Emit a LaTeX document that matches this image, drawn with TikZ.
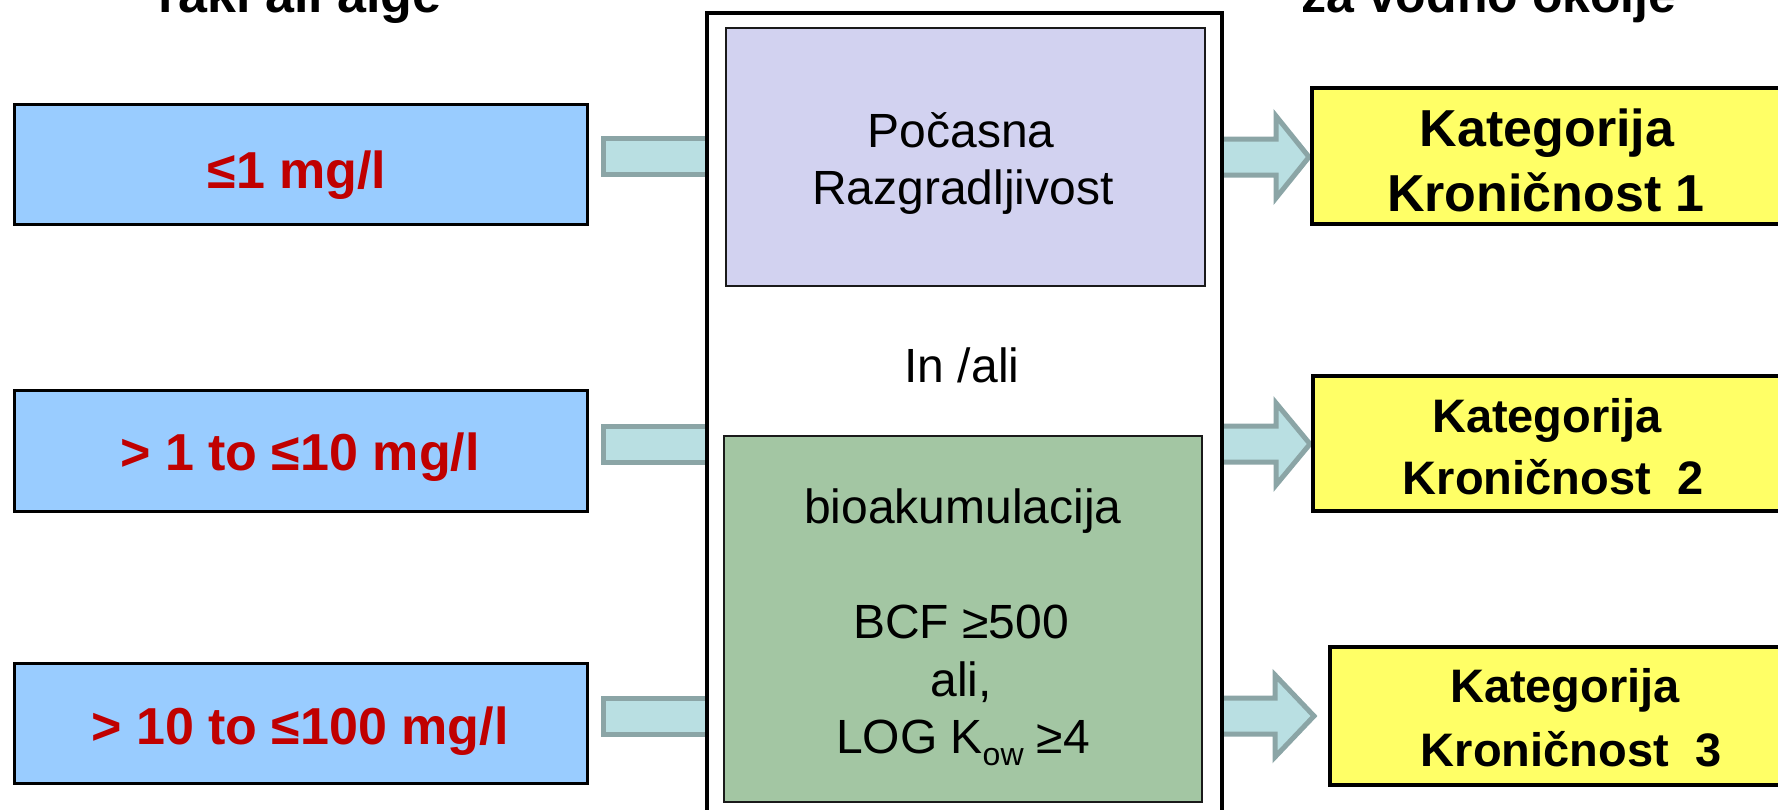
\documentclass[tikz,border=0pt]{standalone}
\usepackage{fontspec}
\setmainfont{Liberation Sans}

\definecolor{inblue}{HTML}{99CCFF}
\definecolor{valred}{HTML}{C00000}
\definecolor{arrfill}{HTML}{B9DFE2}
\definecolor{arredge}{HTML}{8BA5A6}
\definecolor{slowfill}{HTML}{D2D2F0}
\definecolor{biofill}{HTML}{A3C6A3}
\definecolor{catfill}{HTML}{FFFF66}
\definecolor{inkgray}{HTML}{1A1A1A}

\begin{document}
\begin{tikzpicture}[x=0.5pt,y=-0.5pt,
  inbox/.style={draw=black, line width=1.5pt, fill=inblue, inner sep=0pt, minimum width=286.5pt},
  outerbox/.style={draw=black, line width=1.7pt, fill=white, inner sep=0pt},
  critbox/.style={draw=inkgray, line width=1.3pt, inner sep=0pt},
  catbox/.style={draw=black, line width=1.7pt, fill=catfill, inner sep=0pt},
  shaft/.style={draw=arredge, fill=arrfill, line width=2.5pt, line join=miter},
  hdr/.style={font=\bfseries\fontsize{26}{30}\selectfont, inner sep=0pt, anchor=base},
  val/.style={font=\bfseries\fontsize{26}{30}\selectfont, text=valred, inner sep=0pt, anchor=base},
  crit/.style={font=\fontsize{24}{28}\selectfont, inner sep=0pt, anchor=base},
  catA/.style={font=\bfseries\fontsize{26}{30}\selectfont, inner sep=0pt, anchor=base},
  catB/.style={font=\bfseries\fontsize{23.5}{28}\selectfont, inner sep=0pt, anchor=base}]

\useasboundingbox (0,0) rectangle (1778,809);
\clip (0,0) rectangle (1778,809);

% column headings (only their last lines fall inside the frame)
\node[hdr] (hl) at (300,12) {raki ali alge};
\node[hdr, font=\bfseries\fontsize{25}{30}\selectfont] (hr) at (1489,12) {za vodno okolje};

% toxicity ranges
\node[inbox, minimum height=60pt]   (b1) at (300.5,164)   {};
\node[inbox, minimum height=60.5pt] (b2) at (300.5,450.5) {};
\node[inbox, minimum height=60pt]   (b3) at (300.5,723)   {};
\node[val] (v1) at (297,188) {≤1 mg/l};
\node[val] (v2) at (300,470) {> 1 to ≤10 mg/l};
\node[val] (v3) at (300,744) {> 10 to ≤100 mg/l};

% anchor points of the block arrows
\coordinate (l1) at (603.5,156.5);
\coordinate (l2) at (603.5,444.5);
\coordinate (l3) at (603.5,716.5);
\coordinate (r1) at (1215,157);
\coordinate (r2) at (1215,444);
\coordinate (r3) at (1215,716);

% shafts entering the criteria frame
\foreach \c in {l1,l2,l3}
  \draw[shaft] ([yshift=9pt]\c) rectangle ([xshift=56pt,yshift=-9pt]\c);

% block arrows leaving the criteria frame
\draw[shaft] ([yshift=9pt]r1) -- ++(61,0) -- ++(0,-23) -- ++(33,41) -- ++(-33,41) -- ++(0,-23) -- ++(-61,0) -- cycle;
\draw[shaft] ([yshift=9pt]r2) -- ++(61,0) -- ++(0,-23) -- ++(34,41) -- ++(-34,41) -- ++(0,-23) -- ++(-61,0) -- cycle;
\draw[shaft] ([yshift=9pt]r3) -- ++(60,0) -- ++(0,-23) -- ++(39,41) -- ++(-39,41) -- ++(0,-23) -- ++(-60,0) -- cycle;

% criteria frame
\node[outerbox, minimum width=257.5pt, minimum height=408.5pt] (o) at (964.5,421.5) {};
\node[critbox, fill=slowfill, minimum width=239.5pt, minimum height=129pt] (p) at (965.5,157) {};
\node[critbox, fill=biofill,  minimum width=239pt,   minimum height=183pt] (g) at (963,619) {};

\node[crit] (t1) at (961,147) {Počasna};
\node[crit] (t2) at (963,204) {Razgradljivost};
\node[crit] (t3) at (962,382) {In /ali};
\node[crit] (t4) at (963,523) {bioakumulacija};
\node[crit] (t5) at (961,638) {BCF ≥500};
\node[crit] (t6) at (961,696) {ali,};
\node[crit] (t7) at (963,753) {LOG K\raisebox{-6pt}{\fontsize{16}{16}\selectfont ow} ≥4};

% chronic hazard categories
\node[catbox, minimum width=244pt,   minimum height=68pt]   (k1) at (1556,156)     {};
\node[catbox, minimum width=243.5pt, minimum height=67.5pt] (k2) at (1556.5,443.5) {};
\node[catbox, minimum width=235pt,   minimum height=69pt]   (k3) at (1565,716)     {};

\node[catA] (c1a) at (1547,146) {Kategorija};
\node[catA] (c1b) at (1546,211) {Kroničnost 1};
\node[catB] (c2a) at (1547,432) {Kategorija};
\node[catB] (c2b) at (1553,494) {Kroničnost\ \ 2};
\node[catB] (c3a) at (1565,702) {Kategorija};
\node[catB] (c3b) at (1571,766) {Kroničnost\ \ 3};

\end{tikzpicture}
\end{document}
